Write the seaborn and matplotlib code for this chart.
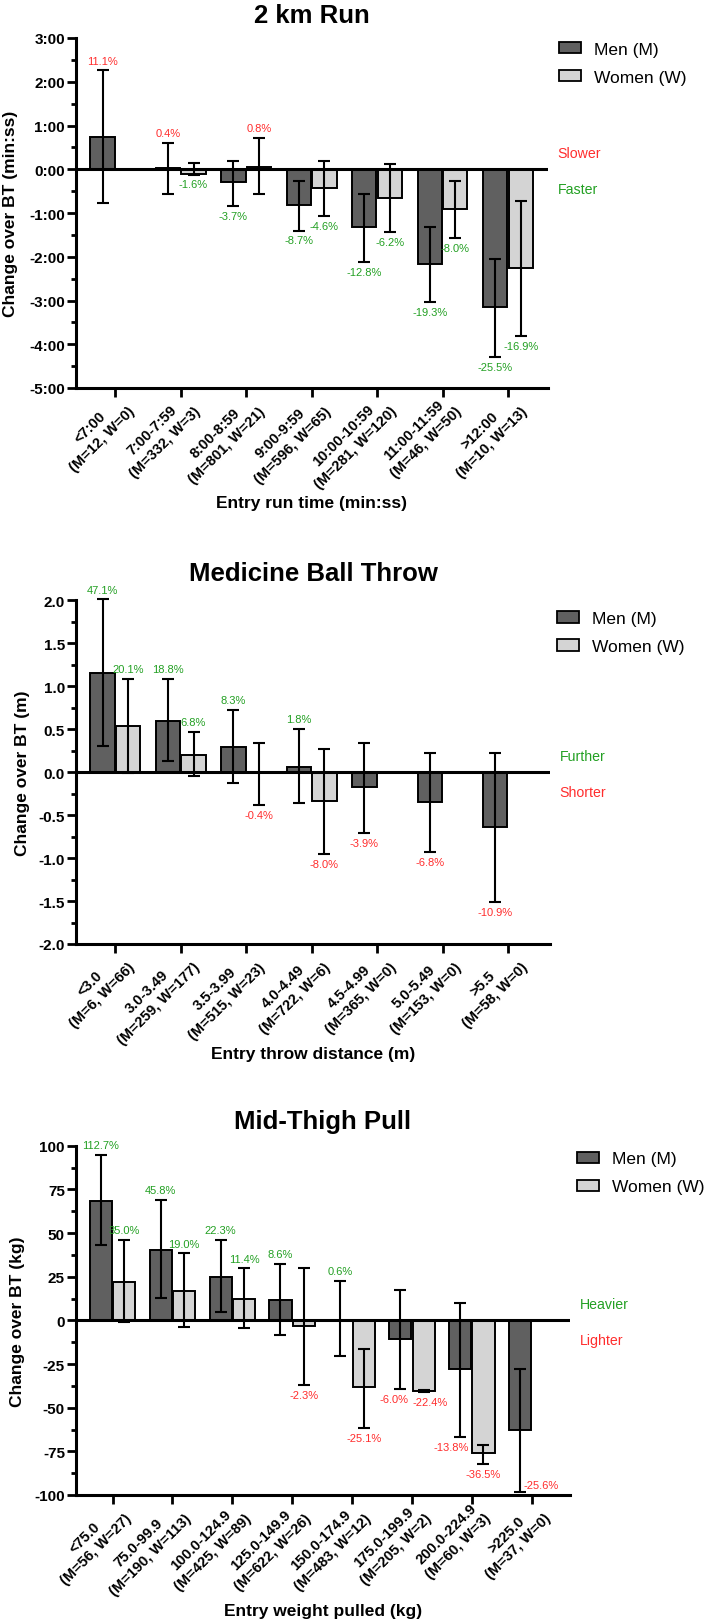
"""
    Change over basic training by entry fitness band, men vs women
"""
import matplotlib
matplotlib.use("Agg")
import matplotlib.pyplot as plt
import matplotlib.patches as mpatches
import matplotlib.transforms as mtransforms
from matplotlib.ticker import MultipleLocator, FuncFormatter
import numpy as np
import pandas as pd
import seaborn as sns

nan = np.nan

# ---- 2 km run (minutes) ----
run_cats = ["<7:00\n(M=12, W=0)", "7:00-7:59\n(M=332, W=3)", "8:00-8:59\n(M=801, W=21)",
            "9:00-9:59\n(M=596, W=65)", "10:00-10:59\n(M=281, W=120)",
            "11:00-11:59\n(M=46, W=50)", ">12:00\n(M=10, W=13)"]
run_men = [0.74, 0.02, -0.30, -0.82, -1.33, -2.17, -3.15]
run_men_lo = [-0.76, -0.56, -0.84, -1.40, -2.12, -3.04, -4.30]
run_men_hi = [2.26, 0.60, 0.19, -0.27, -0.56, -1.33, -2.05]
run_women = [nan, -0.11, 0.05, -0.43, -0.65, -0.90, -2.25]
run_women_lo = [nan, -0.12, -0.57, -1.07, -1.43, -1.57, -3.82]
run_women_hi = [nan, 0.14, 0.71, 0.18, 0.13, -0.27, -0.73]
run_men_pct = ["11.1%", "0.4%", "-3.7%", "-8.7%", "-12.8%", "-19.3%", "-25.5%"]
run_women_pct = [None, "-1.6%", "0.8%", "-4.6%", "-6.2%", "-8.0%", "-16.9%"]

# ---- medicine ball throw (m) ----
throw_cats = ["<3.0\n(M=6, W=66)", "3.0-3.49\n(M=259, W=177)", "3.5-3.99\n(M=515, W=23)",
              "4.0-4.49\n(M=722, W=6)", "4.5-4.99\n(M=365, W=0)", "5.0-5.49\n(M=153, W=0)",
              ">5.5\n(M=58, W=0)"]
throw_men = [1.155, 0.60, 0.29, 0.065, -0.175, -0.342, -0.64]
throw_men_lo = [0.30, 0.135, -0.128, -0.36, -0.71, -0.93, -1.51]
throw_men_hi = [2.01, 1.085, 0.725, 0.503, 0.337, 0.225, 0.225]
throw_women = [0.535, 0.205, -0.01, -0.337, nan, nan, nan]
throw_women_lo = [-0.015, -0.04, -0.38, -0.958, nan, nan, nan]
throw_women_hi = [1.085, 0.47, 0.337, 0.27, nan, nan, nan]
throw_men_pct = ["47.1%", "18.8%", "8.3%", "1.8%", "-3.9%", "-6.8%", "-10.9%"]
throw_women_pct = ["20.1%", "6.8%", "-0.4%", "-8.0%", None, None, None]

# ---- mid-thigh pull (kg) ----
mtp_cats = ["<75.0\n(M=56, W=27)", "75.0-99.9\n(M=190, W=113)", "100.0-124.9\n(M=425, W=89)",
            "125.0-149.9\n(M=622, W=26)", "150.0-174.9\n(M=483, W=12)",
            "175.0-199.9\n(M=205, W=2)", "200.0-224.9\n(M=60, W=3)", ">225.0\n(M=37, W=0)"]
mtp_men = [68.5, 40.5, 24.7, 11.7, 0.2, -10.6, -27.8, -62.7]
mtp_men_lo = [43.3, 12.6, 4.6, -8.4, -20.5, -39.2, -66.9, -98.3]
mtp_men_hi = [94.6, 69.1, 46.0, 32.3, 22.7, 17.4, 10.0, -27.8]
mtp_women = [22.1, 17.0, 12.2, -3.4, -38.3, -40.5, -76.0, nan]
mtp_women_lo = [-1.1, -3.9, -4.5, -37.0, -61.7, -41.2, -82.2, nan]
mtp_women_hi = [46.0, 38.4, 29.8, 29.8, -16.4, -39.8, -71.1, nan]
mtp_men_pct = ["112.7%", "45.8%", "22.3%", "8.6%", "0.6%", "-6.0%", "-13.8%", "-25.6%"]
mtp_women_pct = ["35.0%", "19.0%", "11.4%", "-2.3%", "-25.1%", "-22.4%", "-36.5%", None]

MEN_C = "#606060"
WOMEN_C = "#d4d4d4"
RED = "#ff2d2d"
GREEN = "#23a023"
BAR_W = 0.78  # total for both hues

sns.set_style("ticks")
plt.rcParams["font.family"] = ["Liberation Sans", "DejaVu Sans"]
for k in ["text.color", "axes.labelcolor", "xtick.color", "ytick.color", "axes.edgecolor"]:
    plt.rcParams[k] = "black"


def mmss(v, pos):
    sign = "-" if v < -1e-9 else ""
    v = abs(v)
    m = int(v + 1e-9)
    s = int(round((v - m) * 60))
    return f"{sign}{m}:{s:02d}"


def pct_label(ax, text, xy, xytext, color, ha="center"):
    ax.annotate(text, xy=xy, xytext=xytext, textcoords="offset points",
                ha=ha, va="center", fontsize=8, color=color, annotation_clip=False)


def panel(ax, title, cats, men, men_lo, men_hi, women, women_lo, women_hi,
          men_pct, women_pct, ylim, major, minor, ylabel, xlabel, words,
          pos_color, neg_color, xlim, title_pad, ylab_x, xlab_y, leg_xy, fmt=None):
    n = len(cats)
    df = pd.DataFrame({"group": cats * 2,
                       "sex": ["Men (M)"] * n + ["Women (W)"] * n,
                       "value": list(men) + list(women)})
    sns.barplot(data=df, x="group", y="value", hue="sex", order=cats,
                hue_order=["Men (M)", "Women (W)"],
                palette={"Men (M)": MEN_C, "Women (W)": WOMEN_C},
                width=BAR_W, gap=0.05, errorbar=None, saturation=1,
                edgecolor="black", linewidth=1.4, legend=False, ax=ax, zorder=2)

    ax.axhline(0, color="black", lw=2.2, zorder=3)
    ax.set_xlim(*xlim)
    ax.set_ylim(*ylim)

    off = BAR_W / 4
    span = ylim[1] - ylim[0]
    ppu = ax.get_position().height * ax.figure.get_figheight() * 72 / span  # points per unit

    for i in range(n):
        men_shifted = False
        for who, vals, lo, hi, pcts, dx in [("M", men, men_lo, men_hi, men_pct, -off),
                                            ("W", women, women_lo, women_hi, women_pct, off)]:
            v = vals[i]
            if np.isnan(v):
                continue
            x = i + dx
            eb = ax.errorbar([x], [v], yerr=[[v - lo[i]], [hi[i] - v]], fmt="none",
                             ecolor="black", elinewidth=1.5, capsize=4.5, capthick=1.5, zorder=4)
            for art in eb.lines[1] + eb.lines[2]:
                art.set_clip_on(False)
            p = pcts[i]
            neg = p.startswith("-")
            col = neg_color if neg else pos_color
            if not neg:
                pct_label(ax, p, (x, hi[i]), (0, 7), col)
            elif lo[i] - 0.04 * span < ylim[0]:
                pct_label(ax, p, (x, lo[i]), (15, 5), col)
            elif who == "M" and not np.isnan(women[i]) and women[i] < lo[i] \
                    and women_pct[i].startswith("-"):
                # women's bar sits under the label: push it left of the bar
                pct_label(ax, p, (x, lo[i]), (6, -7), col, ha="right")
                men_shifted = (abs(lo[i] - women_lo[i]) * ppu) < 10
            elif who == "W" and men_shifted:
                pct_label(ax, p, (x, lo[i]), (5, -7), col)
            else:
                pct_label(ax, p, (x, lo[i]), (0, -7), col)

    ax.yaxis.set_major_locator(MultipleLocator(major))
    ax.yaxis.set_minor_locator(MultipleLocator(minor))
    if fmt is not None:
        ax.yaxis.set_major_formatter(FuncFormatter(fmt))
    sns.despine(ax=ax)
    for s in ["left", "bottom"]:
        ax.spines[s].set_linewidth(2.2)
    ax.tick_params(axis="y", which="major", length=6.5, width=2.0, pad=1.5,
                   labelsize=11)
    ax.tick_params(axis="y", which="minor", length=3.5, width=2.0)
    ax.tick_params(axis="x", which="major", length=6.5, width=2.0, pad=4)
    for lab in ax.get_yticklabels():
        lab.set_fontweight("bold")

    ax.set_xticks(range(n))
    ax.set_xticklabels(cats, rotation=45, ha="right", va="center",
                       rotation_mode="anchor", fontsize=10.5, fontweight="bold",
                       linespacing=1.3, multialignment="center")
    shift = mtransforms.ScaledTranslation(0.11, 0, ax.figure.dpi_scale_trans)
    for lab in ax.get_xticklabels():
        lab.set_transform(lab.get_transform() + shift)

    ax.set_title(title, fontsize=18.5, fontweight="bold", pad=title_pad)
    ax.set_ylabel(ylabel, fontsize=12.5, fontweight="bold", va="center")
    ax.yaxis.set_label_coords(ylab_x, 0.5)
    ax.set_xlabel(xlabel, fontsize=12.5, fontweight="bold", va="center")
    ax.xaxis.set_label_coords(0.5, xlab_y)

    # direction words next to the zero line
    ax.annotate(words[0], xy=(1, 0), xycoords=ax.get_yaxis_transform(),
                xytext=(7, 11.5), textcoords="offset points", ha="left", va="center",
                fontsize=10.2, color=pos_color)
    ax.annotate(words[1], xy=(1, 0), xycoords=ax.get_yaxis_transform(),
                xytext=(7, -14), textcoords="offset points", ha="left", va="center",
                fontsize=10.2, color=neg_color)

    handles = [mpatches.Patch(facecolor=MEN_C, edgecolor="black", lw=1.3),
               mpatches.Patch(facecolor=WOMEN_C, edgecolor="black", lw=1.3)]
    ax.legend(handles, ["Men (M)", "Women (W)"], loc="center left",
              bbox_to_anchor=leg_xy, frameon=False, fontsize=12.5,
              handlelength=1.26, handleheight=0.62, handletextpad=0.75,
              labelspacing=0.75, borderpad=0, borderaxespad=0)


fig = plt.figure(figsize=(7.09, 16.24), dpi=100)
H = 1624.0
W = 709.0

ax1 = fig.add_axes([76 / W, 1 - 389 / H, 472 / W, 350 / H])
ax2 = fig.add_axes([76 / W, 1 - 945 / H, 474 / W, 343.7 / H])
ax3 = fig.add_axes([76 / W, 1 - 1496 / H, 494 / W, 349.3 / H])

panel(ax1, "2 km Run", run_cats, run_men, run_men_lo, run_men_hi,
      run_women, run_women_lo, run_women_hi, run_men_pct, run_women_pct,
      ylim=(-5, 3), major=1, minor=0.5, ylabel="Change over BT (min:ss)",
      xlabel="Entry run time (min:ss)", words=("Slower", "Faster"),
      pos_color=RED, neg_color=GREEN, xlim=(-0.6, 6.61), title_pad=11.5,
      ylab_x=-0.138, xlab_y=-0.326, leg_xy=(1.023, 0.928), fmt=mmss)

panel(ax2, "Medicine Ball Throw", throw_cats, throw_men, throw_men_lo, throw_men_hi,
      throw_women, throw_women_lo, throw_women_hi, throw_men_pct, throw_women_pct,
      ylim=(-2, 2), major=0.5, minor=0.25, ylabel="Change over BT (m)",
      xlabel="Entry throw distance (m)", words=("Further", "Shorter"),
      pos_color=GREEN, neg_color=RED, xlim=(-0.6, 6.64), title_pad=14.5,
      ylab_x=-0.113, xlab_y=-0.32, leg_xy=(1.015, 0.906),
      fmt=lambda v, p: f"{v:.1f}")

panel(ax3, "Mid-Thigh Pull", mtp_cats, mtp_men, mtp_men_lo, mtp_men_hi,
      mtp_women, mtp_women_lo, mtp_women_hi, mtp_men_pct, mtp_women_pct,
      ylim=(-100, 100), major=25, minor=12.5, ylabel="Change over BT (kg)",
      xlabel="Entry weight pulled (kg)", words=("Heavier", "Lighter"),
      pos_color=GREEN, neg_color=RED, xlim=(-0.61, 7.64), title_pad=13,
      ylab_x=-0.119, xlab_y=-0.331, leg_xy=(1.014, 0.922),
      fmt=lambda v, p: f"{v:.0f}")

fig.savefig("out.png", dpi=100)
